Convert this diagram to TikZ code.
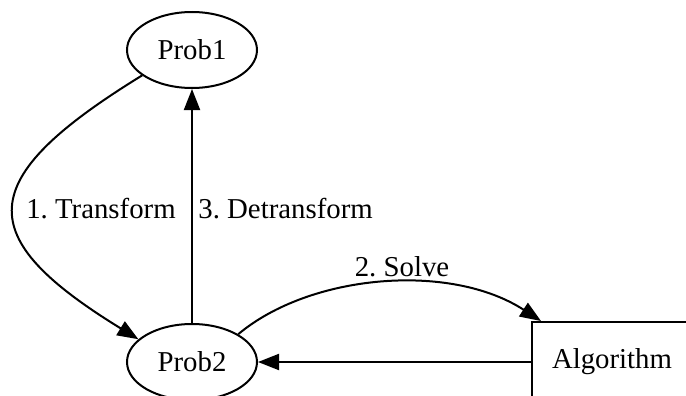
\documentclass[tikz,border=0pt]{standalone}
\usepackage{fontspec}
\setmainfont{Liberation Serif}
\usetikzlibrary{positioning,arrows.meta,shapes.geometric}
\frenchspacing

\tikzset{
  probnode/.style={draw,ellipse,line width=1pt,inner sep=0pt,
    minimum width=65pt,minimum height=38pt},
  algonode/.style={draw,rectangle,line width=1pt,inner sep=0pt,
    minimum width=80pt,minimum height=40pt},
  flow/.style={line width=1pt,-{Triangle[length=10.5pt,width=8pt]}},
  edgelabel/.style={inner sep=0pt}
}

\begin{document}
\begin{tikzpicture}[x=0.5pt,y=-0.5pt,font=\fontsize{14.4}{17}\selectfont]
        \useasboundingbox (0,0) rectangle (686,396);
        \clip (0,0) rectangle (686,396);

        \node[probnode] (prob1) at (192,50) {Prob1};
        \node[probnode] (prob2) at (192,362) {Prob2};
        \node[algonode] (algo) at (612,362) {Algorithm};

        % edges
        \draw[flow] (prob1.207) .. controls (-28,180) and (-28,237) .. (prob2.157);
        \draw[flow] (prob2.north) -- (prob1.south);
        \draw[flow] (prob2.31) .. controls (310,274) and (450,262)
          .. ([xshift=5pt]algo.north west);
        \draw[flow] (algo.west) -- (prob2.east);

        \node[edgelabel] (lbltrans) at (101,209) {1. Transform};
        \node[edgelabel,anchor=west] (lbldetrans) at (198,209) {3. Detransform};
        \node[edgelabel] (lblsolve) at (402,267) {2. Solve};
      \end{tikzpicture}
\end{document}
